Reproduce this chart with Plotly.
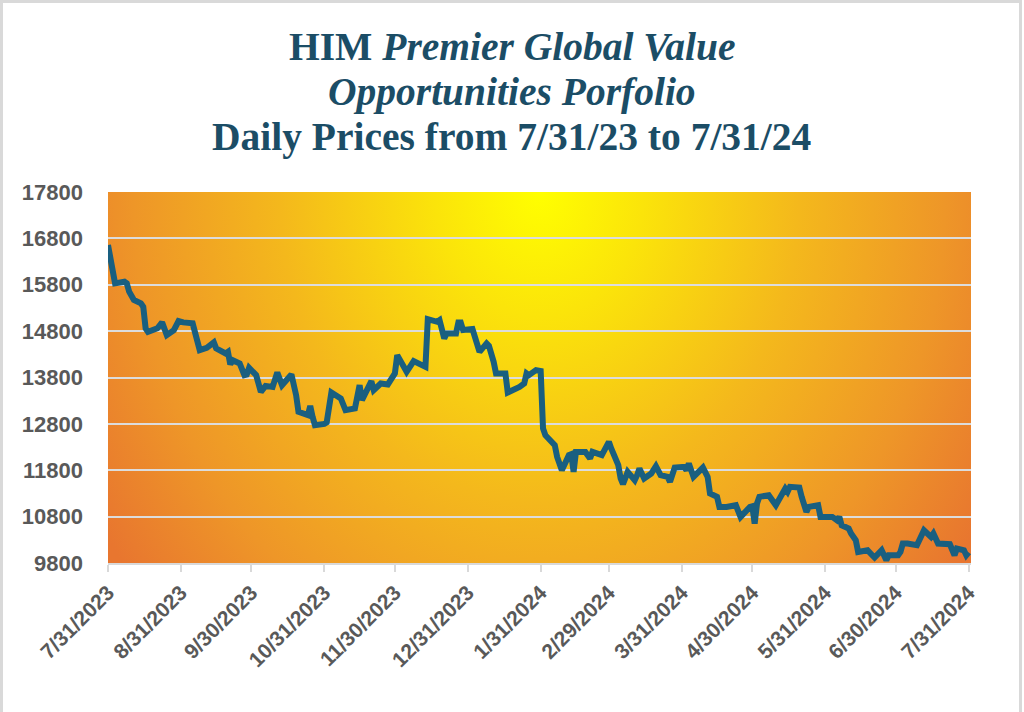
import base64
import plotly.graph_objects as go

# ---------------- data ----------------
dates = [
    "2023-07-31", "2023-08-02", "2023-08-03", "2023-08-07", "2023-08-08", "2023-08-09",
    "2023-08-11", "2023-08-14", "2023-08-15", "2023-08-16", "2023-08-17", "2023-08-21",
    "2023-08-23", "2023-08-25", "2023-08-28", "2023-08-30", "2023-09-01", "2023-09-05",
    "2023-09-08", "2023-09-11", "2023-09-14", "2023-09-15", "2023-09-19", "2023-09-20",
    "2023-09-21", "2023-09-22", "2023-09-25", "2023-09-27", "2023-09-28", "2023-09-29",
    "2023-10-02", "2023-10-04", "2023-10-06", "2023-10-09", "2023-10-11", "2023-10-13",
    "2023-10-17", "2023-10-19", "2023-10-20", "2023-10-24", "2023-10-25", "2023-10-26",
    "2023-10-27", "2023-10-31", "2023-11-01", "2023-11-03", "2023-11-07", "2023-11-09",
    "2023-11-13", "2023-11-15", "2023-11-16", "2023-11-20", "2023-11-21", "2023-11-24",
    "2023-11-27", "2023-11-30", "2023-12-01", "2023-12-05", "2023-12-08", "2023-12-13",
    "2023-12-14", "2023-12-18", "2023-12-19", "2023-12-21", "2023-12-22", "2023-12-26",
    "2023-12-27", "2023-12-28", "2023-12-29", "2024-01-02", "2024-01-05", "2024-01-08",
    "2024-01-09", "2024-01-11", "2024-01-12", "2024-01-16", "2024-01-17", "2024-01-22",
    "2024-01-24", "2024-01-25", "2024-01-26", "2024-01-29", "2024-01-31", "2024-02-01",
    "2024-02-02", "2024-02-06", "2024-02-07", "2024-02-09", "2024-02-12", "2024-02-13",
    "2024-02-14", "2024-02-15", "2024-02-19", "2024-02-21", "2024-02-22", "2024-02-26",
    "2024-02-27", "2024-02-28", "2024-02-29", "2024-03-01", "2024-03-04", "2024-03-05",
    "2024-03-06", "2024-03-08", "2024-03-11", "2024-03-12", "2024-03-13", "2024-03-15",
    "2024-03-18", "2024-03-20", "2024-03-22", "2024-03-25", "2024-03-26", "2024-03-28",
    "2024-04-01", "2024-04-02", "2024-04-03", "2024-04-05", "2024-04-08", "2024-04-09",
    "2024-04-11", "2024-04-12", "2024-04-15", "2024-04-16", "2024-04-19", "2024-04-23",
    "2024-04-25", "2024-04-26", "2024-04-29", "2024-04-30", "2024-05-01", "2024-05-02",
    "2024-05-03", "2024-05-07", "2024-05-10", "2024-05-14", "2024-05-15", "2024-05-16",
    "2024-05-20", "2024-05-21", "2024-05-23", "2024-05-24", "2024-05-28", "2024-05-29",
    "2024-05-31", "2024-06-03", "2024-06-05", "2024-06-06", "2024-06-07", "2024-06-10",
    "2024-06-11", "2024-06-13", "2024-06-14", "2024-06-17", "2024-06-18", "2024-06-20",
    "2024-06-21", "2024-06-24", "2024-06-26", "2024-06-27", "2024-07-01", "2024-07-02",
    "2024-07-03", "2024-07-05", "2024-07-09", "2024-07-10", "2024-07-12", "2024-07-15",
    "2024-07-16", "2024-07-18", "2024-07-22", "2024-07-23", "2024-07-25", "2024-07-26",
    "2024-07-29", "2024-07-30", "2024-07-31",
]
prices = [
    16656, 16045, 15830, 15865, 15830, 15650,
    15470, 15400, 15325, 14860, 14785, 14860,
    14988, 14714, 14820, 15016, 14988, 14967,
    14390, 14440, 14557, 14427, 14319, 14354,
    14082, 14175, 14103, 13851, 13866, 14008,
    13851, 13490, 13620, 13598, 13909, 13635,
    13866, 13419, 13059, 12988, 13188, 12951,
    12772, 12800, 12830, 13478, 13348, 13096,
    13132, 13635, 13312, 13721, 13527, 13671,
    13650, 13888, 14283, 13922, 14153, 14030,
    15059, 15001, 15037, 14643, 14750, 14750,
    14988, 14988, 14822, 14844, 14354, 14535,
    14483, 14138, 13888, 13888, 13478, 13598,
    13671, 13888, 13851, 13959, 13940, 12701,
    12556, 12340, 12088, 11801, 12125, 12146,
    11764, 12196, 12196, 12053, 12196, 12125,
    12232, 12340, 12412, 12269, 11909, 11622,
    11499, 11764, 11585, 11693, 11837, 11622,
    11729, 11887, 11693, 11657, 11548, 11858,
    11872, 11801, 11944, 11657, 11801, 11858,
    11657, 11298, 11226, 11010, 11010, 11046,
    10794, 10851, 11010, 11024, 10651, 11082,
    11226, 11262, 11046, 11406, 11334, 11442,
    11427, 11226, 10903, 11010, 11046, 10794,
    10794, 10794, 10722, 10794, 10614, 10543,
    10435, 10291, 10039, 10075, 10075, 9968,
    9918, 10075, 9860, 9968, 9968, 10039,
    10219, 10219, 10183, 10291, 10507, 10363,
    10435, 10219, 10183, 10204, 9968, 10111,
    10075, 9968, 10030,
]

tick_dates = [
    "2023-07-31", "2023-08-31", "2023-09-30", "2023-10-31", "2023-11-30", "2023-12-31",
    "2024-01-31", "2024-02-29", "2024-03-31", "2024-04-30", "2024-05-31", "2024-06-30",
    "2024-07-31",
]
tick_labels = [
    "7/31/2023", "8/31/2023", "9/30/2023", "10/31/2023", "11/30/2023", "12/31/2023",
    "1/31/2024", "2/29/2024", "3/31/2024", "4/30/2024", "5/31/2024", "6/30/2024",
    "7/31/2024",
]
y_ticks = [9800, 10800, 11800, 12800, 13800, 14800, 15800, 16800, 17800]

title_lines = [
    "HIM <i>Premier Global Value</i>",
    "<i>Opportunities Porfolio</i>",
    "Daily Prices from 7/31/23 to 7/31/24",
]

# ---------------- layout geometry ----------------
W, H = 1024, 712
L, R, T, B = 108, 53, 192, 149
PW, PH = W - L - R, H - T - B

# radial gradient background for the plot area (SVG data URI)
svg = f"""<svg xmlns="http://www.w3.org/2000/svg" width="{PW}" height="{PH}" viewBox="0 0 {PW} {PH}" preserveAspectRatio="none">
<defs><radialGradient id="g" gradientUnits="userSpaceOnUse" cx="0" cy="0" r="1"
 gradientTransform="translate({PW/2},0) scale(520,620)">
<stop offset="0" stop-color="#ffff00"/>
<stop offset="0.2" stop-color="#fbe40a"/>
<stop offset="0.5" stop-color="#f4b81c"/>
<stop offset="0.78" stop-color="#ee9628"/>
<stop offset="1" stop-color="#e8762f"/>
</radialGradient></defs>
<rect x="0" y="0" width="{PW}" height="{PH}" fill="url(#g)"/>
</svg>"""
bg_uri = "data:image/svg+xml;base64," + base64.b64encode(svg.encode()).decode()

fig = go.Figure()
fig.add_trace(go.Scatter(
    x=dates, y=prices, mode="lines",
    line=dict(color="#195f80", width=6),
    hoverinfo="x+y", showlegend=False,
))

title_color = "#1b4d66"
title_centers_px = [47, 92, 137]
annotations = []
for txt, cy in zip(title_lines, title_centers_px):
    annotations.append(dict(
        text=f"<b>{txt}</b>", xref="paper", yref="paper",
        x=(W / 2 - L) / PW, y=(H - B - cy) / PH,
        xanchor="center", yanchor="middle", showarrow=False,
        font=dict(family="Liberation Serif, Times New Roman, serif", size=39.5, color=title_color),
    ))

fig.update_layout(
    width=W, height=H,
    margin=dict(l=L, r=R, t=T, b=B, pad=0),
    paper_bgcolor="white", plot_bgcolor="rgba(0,0,0,0)",
    annotations=annotations,
    images=[dict(source=bg_uri, xref="paper", yref="paper", x=0, y=1,
                 sizex=1, sizey=1, sizing="stretch", xanchor="left", yanchor="top",
                 layer="below")],
    shapes=[dict(type="rect", xref="paper", yref="paper",
                 x0=(1.5 - L) / PW, x1=(1020.5 - L) / PW,
                 y0=(H - B - 720) / PH, y1=(H - B - 1.5) / PH,
                 line=dict(color="#d9d9d9", width=3), fillcolor="rgba(0,0,0,0)")],
)

tick_font = dict(family="Liberation Sans, Arial, sans-serif", size=22, color="#595959")

fig.update_xaxes(
    type="date", range=["2023-07-31", "2024-08-01"],
    tickmode="array", tickvals=tick_dates, ticktext=[f"<b>{t}</b>" for t in tick_labels],
    tickangle=-45, tickfont=dict(tick_font, size=21),
    showgrid=False, zeroline=False,
    showline=True, linecolor="#d9d9d9", linewidth=2,
    ticks="outside", ticklen=7, tickwidth=2, tickcolor="#d9d9d9",
)
fig.update_yaxes(
    range=[9800, 17800], tickmode="array", tickvals=y_ticks,
    ticktext=[f"<b>{v}</b>" for v in y_ticks], tickfont=tick_font,
    showgrid=True, gridcolor="#dcdcdc", gridwidth=2,
    zeroline=False, showline=False, ticks="", ticklabelstandoff=24,
)

fig.write_html("out.html", config={"displayModeBar": False},
               post_script="document.body.style.margin='0px';")
